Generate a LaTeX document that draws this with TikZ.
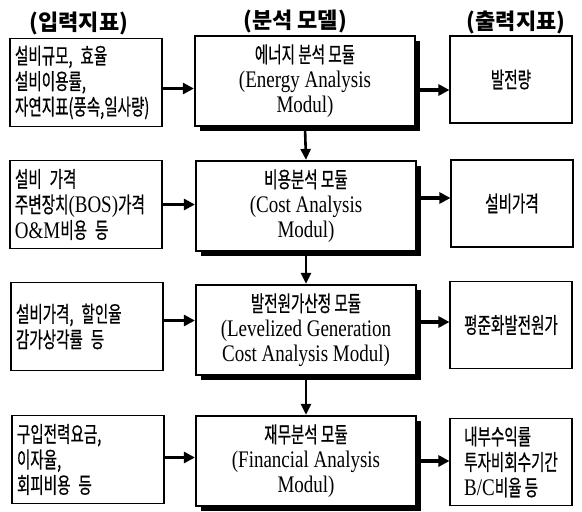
\documentclass[tikz,border=0pt]{standalone}
\usepackage{fontspec}
\setmainfont{Liberation Serif}[Scale=1.25,FakeStretch=0.8]
\newfontfamily\kr{Noto Sans CJK KR}[Scale=1.16,FakeStretch=0.66,FakeBold=0.6]
\newfontfamily\krhead{Noto Sans CJK KR}
\usepackage{tikz}
\usetikzlibrary{arrows.meta,shadows}

\begin{document}
\begin{tikzpicture}[x=1pt, y=-1pt,
    head/.style={font=\krhead\bfseries\fontsize{22}{24}\selectfont, inner sep=0},
    inbox/.style={draw, line width=1.3pt, text width=142pt, inner xsep=5pt, minimum height=88pt, align=left, font=\fontsize{19}{25.5}\selectfont},
    modbox/.style={draw, line width=2.2pt, fill=white, minimum width=220pt, minimum height=90pt, align=center, font=\fontsize{19}{25}\selectfont, drop shadow={shadow xshift=5pt, shadow yshift=-5pt, fill=black, opacity=1}},
    outbox/.style={draw, line width=1.1pt, minimum width=122pt, minimum height=87pt, inner xsep=2pt, align=center, font=\fontsize{19}{25.5}\selectfont},
    harr/.style={line width=3.2pt, -{Triangle[length=11pt,width=11pt]}},
    varr/.style={line width=2.6pt, -{Triangle[length=11pt,width=10pt]}}]
            \useasboundingbox (0,0) rectangle (582,512);
            \node[head] (hin) at (79,23) {(입력지표)};
            \node[head] (hmod) at (295,21) {(분석 모델)};
            \node[head] (hout) at (516,22) {(출력지표)};
            \node[inbox] (in1) at (86,82.5) {{\kr 설비규모, 효율}\\{\kr 설비이용률,}\\{\kr 자연지표(풍속,일사량)}};
            \node[inbox] (in2) at (86,204.5) {{\kr 설비 가격}\\{\kr 주변장치}(BOS){\kr 가격}\\O\&M{\kr 비용 등}};
            \node[inbox] (in3) at (87,326.5) {{\kr 설비가격, 할인율}\\{\kr 감가상각률 등}};
            \node[inbox] (in4) at (88,459.5) {{\kr 구입전력요금,}\\{\kr 이자율,}\\{\kr 회피비용 등}};
            \node[modbox] (mod1) at (305,81) {{\kr 에너지 분석 모듈}\\(Energy Analysis\\Modul)};
            \node[modbox] (mod2) at (306,206) {{\kr 비용분석 모듈}\\(Cost Analysis\\Modul)};
            \node[modbox] (mod3) at (306,330) {{\kr 발전원가산정 모듈}\\(Levelized Generation\\Cost Analysis Modul)};
            \node[modbox] (mod4) at (306,461) {{\kr 재무분석 모듈}\\(Financial Analysis\\Modul)};
            \node[outbox] (out1) at (511,79.5) {{\kr 발전량}};
            \node[outbox] (out2) at (512,203.5) {{\kr 설비가격}};
            \node[outbox] (out3) at (511,325) {{\kr 평준화발전원가}};
            \node[outbox, align=left] (out4) at (511,462) {{\kr 내부수익률}\\{\kr 투자비회수기간}\\B/C{\kr 비율 등}};
            \draw[harr] ([yshift=-6pt]in1.east) -- ([yshift=-6pt]in1.east -| mod1.west);
            \draw[harr] ([yshift=-9pt]mod1.east) -- ([yshift=-9pt]mod1.east -| out1.west);
            \draw[harr] (in2.east) -- (in2.east -| mod2.west);
            \draw[harr] ([yshift=8pt]mod2.east) -- ([yshift=8pt]mod2.east -| out2.west);
            \draw[harr] ([yshift=6pt]in3.east) -- ([yshift=6pt]in3.east -| mod3.west);
            \draw[harr] ([yshift=8pt]mod3.east) -- ([yshift=8pt]mod3.east -| out3.west);
            \draw[harr] ([yshift=2pt]in4.east) -- ([yshift=2pt]in4.east -| mod4.west);
            \draw[harr] (mod4.east) -- (mod4.east -| out4.west);
            \draw[varr] (mod1.south) -- (mod2.north);
            \draw[varr] (mod2.south) -- (mod3.north);
            \draw[varr] (mod3.south) -- (mod4.north);
        \end{tikzpicture}
\end{document}
